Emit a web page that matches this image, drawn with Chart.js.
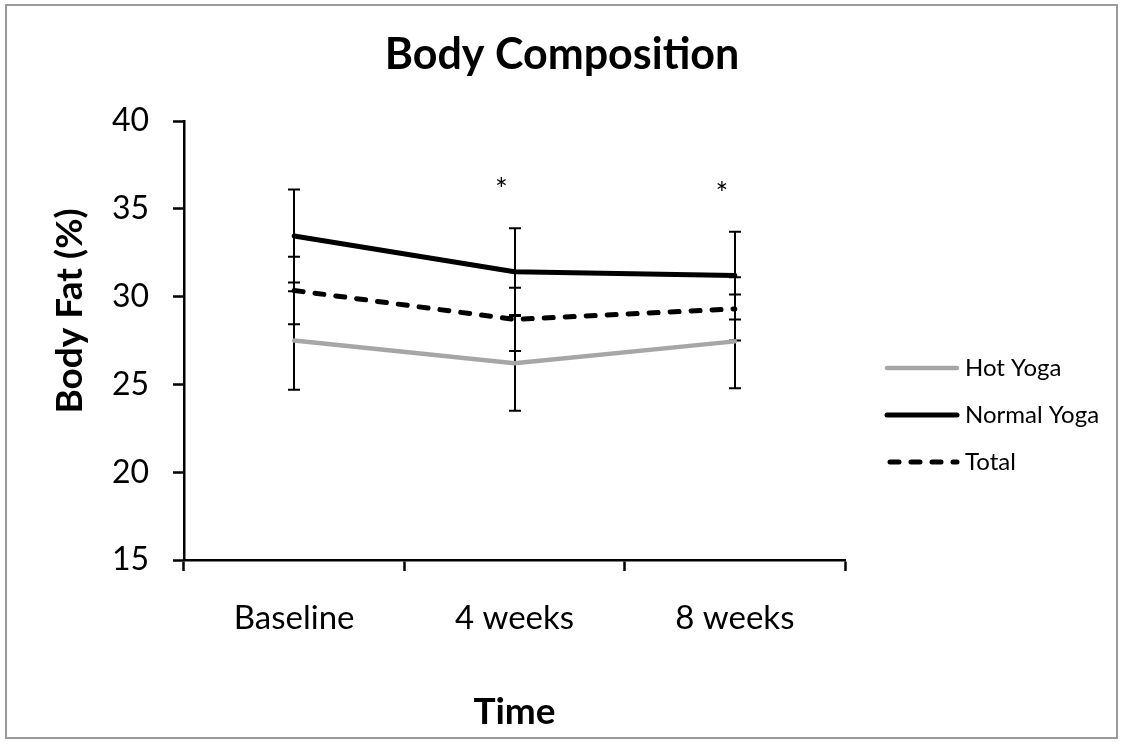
<!DOCTYPE html>
<html>
<head>
<meta charset="utf-8">
<title>Body Composition</title>
<script src="https://cdn.jsdelivr.net/npm/chart.js@4.4.1/dist/chart.umd.min.js"></script>
<style>
  html, body { margin: 0; padding: 0; background: #ffffff; }
  #wrap { width: 1124px; height: 744px; }
</style>
</head>
<body>
<div id="wrap"><canvas id="chart" width="1124" height="744"></canvas></div>
<script>
// Measurement points
const timePoints = ['Baseline', '4 weeks', '8 weeks'];

// Mean body fat (%) per group
const hotYoga = [27.5, 26.2, 27.45];
const normalYoga = [33.45, 31.42, 31.2];
const total = [30.35, 28.7, 29.3];

// Standard deviations per group
const hotYogaSD = [2.8, 2.7, 2.67];
const normalYogaSD = [2.65, 2.47, 2.5];
const totalSD = [1.92, 1.8, 1.8];

// Significance markers per time point
const significance = ['', '*', '*'];

// Y axis range and step
const yMin = 15;
const yMax = 40;
const yStep = 5;

const FONT = 'Lato, "Open Sans", "Liberation Sans", sans-serif';

// White background and thin grey frame around the chart
const frame = {
  id: 'frame',
  beforeDraw(chart) {
    const { ctx, width, height } = chart;
    ctx.save();
    ctx.fillStyle = '#ffffff';
    ctx.fillRect(0, 0, width, height);
    ctx.strokeStyle = '#9a9a9a';
    ctx.lineWidth = 2;
    ctx.strokeRect(6, 5, width - 13, height - 11);
    ctx.restore();
  }
};

// Vertical error bars (mean ± SD) with short caps
const errorBars = {
  id: 'errorBars',
  beforeDatasetsDraw(chart) {
    const { ctx, scales: { x, y } } = chart;
    ctx.save();
    ctx.strokeStyle = '#000000';
    ctx.lineWidth = 2;
    ctx.lineCap = 'butt';
    chart.data.datasets.forEach(ds => {
      ds.sd.forEach((s, i) => {
        const px = Math.round(x.getPixelForValue(i));
        const top = y.getPixelForValue(ds.data[i] + s);
        const bot = y.getPixelForValue(ds.data[i] - s);
        ctx.beginPath();
        ctx.moveTo(px, top); ctx.lineTo(px, bot);
        ctx.moveTo(px - 6, top); ctx.lineTo(px + 6, top);
        ctx.moveTo(px - 6, bot); ctx.lineTo(px + 6, bot);
        ctx.stroke();
      });
    });
    ctx.restore();
  }
};

// Asterisks above the highest error bar at significant time points
const sigMarks = {
  id: 'sigMarks',
  afterDatasetsDraw(chart) {
    const { ctx, scales: { x, y } } = chart;
    ctx.save();
    ctx.fillStyle = '#000000';
    ctx.font = '30px ' + FONT;
    ctx.textAlign = 'center';
    ctx.textBaseline = 'alphabetic';
    significance.forEach((mark, i) => {
      if (!mark) return;
      let highest = -Infinity;
      chart.data.datasets.forEach(ds => {
        highest = Math.max(highest, ds.data[i] + ds.sd[i]);
      });
      const cx = x.getPixelForValue(i) - 13;
      const cy = y.getPixelForValue(highest) - 46;
      const m = ctx.measureText(mark);
      const mid = (m.actualBoundingBoxAscent - m.actualBoundingBoxDescent) / 2;
      ctx.fillText(mark, cx, cy + mid);
    });
    ctx.restore();
  }
};

// Vertical axis title and the series legend at the right
const annotations = {
  id: 'annotations',
  afterDraw(chart) {
    const { ctx, chartArea } = chart;
    ctx.save();
    // axis title
    ctx.fillStyle = '#000000';
    ctx.font = 'bold 37px ' + FONT;
    ctx.textAlign = 'center';
    ctx.textBaseline = 'middle';
    ctx.translate(70, chartArea.top + 190);
    ctx.rotate(-Math.PI / 2);
    ctx.fillText('Body Fat (%)', 0, 0);
    ctx.restore();

    // legend
    ctx.save();
    const lx = chartArea.right + 42;
    const len = 70;
    const rowGap = 47;
    const firstRow = chartArea.top + 247;
    ctx.font = '24px ' + FONT;
    ctx.textBaseline = 'middle';
    ctx.textAlign = 'left';
    chart.data.datasets.forEach((ds, i) => {
      const ly = firstRow + i * rowGap;
      ctx.beginPath();
      ctx.strokeStyle = ds.borderColor;
      ctx.lineWidth = ds.borderWidth;
      ctx.lineCap = ds.borderCapStyle || 'butt';
      ctx.setLineDash(ds.borderDash || []);
      ctx.moveTo(lx + (ds.borderDash ? 3 : 0), ly);
      ctx.lineTo(lx + len, ly);
      ctx.stroke();
      ctx.setLineDash([]);
      ctx.fillStyle = '#000000';
      ctx.fillText(ds.label, lx + len + 8, ly);
    });
    ctx.restore();
  }
};

new Chart(document.getElementById('chart'), {
  type: 'line',
  data: {
    labels: timePoints,
    datasets: [
      {
        label: 'Hot Yoga',
        data: hotYoga,
        sd: hotYogaSD,
        borderColor: '#a6a6a6',
        borderWidth: 4.5,
        borderCapStyle: 'round',
        borderJoinStyle: 'round'
      },
      {
        label: 'Normal Yoga',
        data: normalYoga,
        sd: normalYogaSD,
        borderColor: '#000000',
        borderWidth: 5,
        borderCapStyle: 'round',
        borderJoinStyle: 'round'
      },
      {
        label: 'Total',
        data: total,
        sd: totalSD,
        borderColor: '#000000',
        borderWidth: 5,
        borderDash: [9, 12],
        borderCapStyle: 'round',
        borderJoinStyle: 'round'
      }
    ]
  },
  options: {
    responsive: false,
    animation: false,
    devicePixelRatio: 1,
    layout: { padding: 0 },
    elements: {
      point: { radius: 0, hoverRadius: 0 },
      line: { tension: 0, fill: false }
    },
    plugins: {
      legend: { display: false },
      tooltip: { enabled: false },
      title: {
        display: true,
        text: 'Body Composition',
        color: '#000000',
        font: { family: FONT, size: 43, weight: 'bold', lineHeight: 1.2 },
        padding: { top: 29, bottom: 40.4 }
      }
    },
    scales: {
      x: {
        type: 'category',
        offset: true,
        grid: {
          offset: true,
          drawOnChartArea: false,
          drawTicks: true,
          tickLength: 11,
          tickWidth: 2.5,
          tickColor: '#000000'
        },
        border: { display: true, color: '#000000', width: 2.5 },
        ticks: {
          color: '#000000',
          font: { family: FONT, size: 33 },
          padding: 28,
          maxRotation: 0
        },
        title: {
          display: true,
          text: 'Time',
          color: '#000000',
          font: { family: FONT, size: 37, weight: 'bold', lineHeight: 1.2 },
          padding: { top: 0, bottom: 10 }
        },
        afterFit(scale) { scale.height = 184; }
      },
      y: {
        type: 'linear',
        position: 'left',
        min: yMin,
        max: yMax,
        grid: {
          drawOnChartArea: false,
          drawTicks: true,
          tickLength: 11,
          tickWidth: 2.5,
          tickColor: '#000000'
        },
        border: { display: true, color: '#000000', width: 2.5 },
        ticks: {
          stepSize: yStep,
          color: '#000000',
          font: { family: FONT, size: 32 },
          padding: 24
        },
        afterFit(scale) { scale.width = 184; }
      },
      legendSpace: {
        type: 'linear',
        position: 'right',
        display: true,
        grid: { display: false, drawTicks: false },
        border: { display: false },
        ticks: { display: false },
        afterFit(scale) { scale.width = 279; }
      }
    }
  },
  plugins: [frame, errorBars, sigMarks, annotations]
});
</script>
</body>
</html>
